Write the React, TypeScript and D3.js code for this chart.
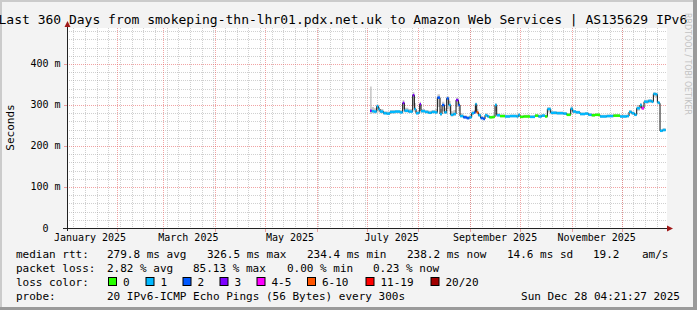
import React from "react";
import * as d3 from "d3";

const W = 697;
const H = 310;
const MONO = "'DejaVu Sans Mono', monospace";

const TITLE =
  "Last 360 Days from smokeping-thn-lhr01.pdx.net.uk to Amazon Web Services | AS135629 IPv6";
const START = Date.UTC(2025, 0, 2, 4, 21, 27);
const END = Date.UTC(2025, 11, 28, 4, 21, 27);
const Y_MAX = 487.8;

// day-of-year (2025, fractional) of each consolidated sample
const dayOfYear = [
  184.0, 185.0, 186.4, 188.0, 189.0, 190.0, 192.0, 194.0, 196.0, 199.0, 202.0, 203.6, 204.6, 207.0,
  209.6, 210.6, 211.6, 213.0, 213.8, 214.6, 217.0, 219.0, 221.0, 223.0, 224.4, 226.0, 227.2, 228.6,
  230.0, 231.2, 232.4, 234.0, 235.6, 237.0, 238.0, 240.0, 242.0, 243.6, 245.0, 246.4, 247.2, 248.0,
  249.0, 250.4, 252.0, 253.0, 254.4, 255.6, 257.6, 259.0, 260.0, 262.0, 265.0, 268.0, 272.0, 273.0,
  274.0, 276.0, 280.0, 283.0, 285.0, 287.0, 289.0, 290.4, 292.4, 296.0, 300.0, 302.0, 304.4, 305.6,
  307.6, 310.0, 313.0, 315.0, 317.0, 319.0, 322.0, 326.0, 330.0, 334.0, 338.0, 339.4, 341.0, 342.6,
  344.0, 346.0, 347.0, 348.4, 351.0, 353.0, 354.0, 355.4, 356.4, 357.6, 358.0, 359.6,
];
const lastDay = 361.4;

// median rtt (ms)
const medianRtt = [
  286, 285, 284, 297, 290, 284, 280, 279, 283, 284, 282, 305, 286, 284,
  324, 290, 280, 281, 302, 285, 283, 281, 283, 282, 318, 278, 300, 282,
  316, 300, 276, 278, 312, 300, 273, 270, 268, 270, 280, 282, 302, 282,
  275, 268, 266, 275, 272, 270, 271, 300, 275, 273, 272, 273, 272, 276,
  271, 272, 271, 274, 272, 274, 272, 290, 281, 280, 279, 276, 291, 284,
  282, 278, 279, 276, 275, 276, 272, 273, 274, 272, 273, 283, 280, 276,
  292, 300, 292, 308, 310, 308, 327, 326, 306, 304, 237, 239,
];

// lost pings (of 20)
const lostPings = [
  3, 1, 1, 1, 1, 1, 1, 1, 1, 1, 1, 3, 1, 1,
  3, 1, 1, 1, 3, 1, 1, 1, 1, 1, 2, 1, 2, 1,
  2, 1, 1, 1, 3, 2, 1, 2, 2, 1, 1, 2, 1, 8,
  1, 2, 2, 1, 1, 0, 0, 1, 1, 0, 1, 1, 1, 1,
  0, 0, 1, 0, 1, 1, 0, 1, 1, 1, 1, 0, 1, 1,
  1, 1, 1, 1, 0, 0, 1, 1, 0, 1, 1, 1, 1, 1,
  1, 1, 5, 1, 1, 1, 1, 1, 1, 1, 1, 1,
];

// smoke (ping spread) in ms
const smokeLow = [
  278, 280, 279, 285, 282, 280, 277, 276, 279, 280, 279, 290, 282, 281,
  300, 283, 277, 278, 290, 281, 280, 278, 280, 279, 295, 274, 285, 278,
  290, 285, 272, 274, 295, 285, 270, 267, 265, 267, 276, 278, 285, 278,
  272, 265, 263, 271, 269, 267, 268, 285, 272, 270, 269, 270, 269, 272,
  268, 269, 268, 271, 269, 271, 269, 282, 277, 277, 276, 273, 284, 280,
  279, 275, 276, 273, 272, 273, 269, 270, 271, 269, 270, 279, 276, 273,
  286, 293, 288, 303, 305, 304, 320, 318, 302, 300, 234, 236,
];
const smokeHigh = [
  345, 295, 292, 302, 296, 290, 285, 284, 288, 288, 287, 312, 293, 290,
  332, 305, 286, 287, 308, 290, 288, 286, 288, 290, 326, 290, 308, 292,
  322, 310, 285, 288, 318, 308, 279, 275, 273, 276, 286, 288, 306, 290,
  280, 272, 270, 280, 276, 274, 275, 304, 280, 277, 276, 277, 276, 280,
  275, 276, 275, 278, 276, 278, 276, 295, 285, 284, 283, 280, 297, 288,
  286, 282, 283, 280, 279, 280, 276, 277, 278, 276, 277, 288, 284, 280,
  300, 305, 298, 313, 314, 312, 331, 330, 310, 308, 241, 243,
];

const yMajor = [0, 100, 200, 300, 400];
const yMajorLabels = ["0\u00a0\u00a0", "100 m", "200 m", "300 m", "400 m"];

const lossLabels = ["0", "1", "2", "3", "4-5", "6-10", "11-19", "20/20"];
const lossMaxPings = [0, 1, 2, 3, 5, 10, 19, 20];
const lossColors = ["#26ff00", "#00b8ff", "#0059ff", "#7e00ff", "#ff00ff", "#ff5500", "#ff0000", "#a10000"];
const lossSwatchX = [108, 145.5, 182.5, 219.5, 256.5, 307, 365.5, 430.5];

const legendRow1: [number, string][] = [
  [16, "median rtt:"],
  [107, "279.8 ms avg"],
  [207, "326.5 ms max"],
  [307, "234.4 ms min"],
  [407, "238.2 ms now"],
  [507, "14.6 ms sd"],
  [593, "19.2"],
  [642, "am/s"],
];
const legendRow2: [number, string][] = [
  [16, "packet loss:"],
  [107, "2.82 % avg"],
  [193, "85.13 % max"],
  [287, "0.00 % min"],
  [373, "0.23 % now"],
];
const probeText = "20 IPv6-ICMP Echo Pings (56 Bytes) every 300s";
const stampText = "Sun Dec 28 04:21:27 2025";

const dayToDate = (d: number) => new Date(Date.UTC(2025, 0, 1) + (d - 1) * 864e5);

export default function App() {
  const L = 67, R = 667, T = 28, B = 228;
  const x = d3.scaleUtc().domain([new Date(START), new Date(END)]).range([L, R]);
  const y = d3.scaleLinear().domain([0, Y_MAX]).range([B, T]);

  const pts = dayOfYear.map((d, i) => ({
    t: dayToDate(d),
    t2: dayToDate(i + 1 < dayOfYear.length ? dayOfYear[i + 1] : lastDay),
    m: medianRtt[i],
    lo: smokeLow[i],
    hi: smokeHigh[i],
    loss: lostPings[i],
  }));
  const stepPts = [...pts, { ...pts[pts.length - 1], t: dayToDate(lastDay) }];

  const smoke = d3
    .area<any>()
    .curve(d3.curveStepAfter)
    .x((d) => x(d.t))
    .y0((d) => y(d.lo))
    .y1((d) => y(d.hi))(stepPts);
  const medLine = d3
    .line<any>()
    .curve(d3.curveStepAfter)
    .x((d) => x(d.t))
    .y((d) => y(d.m))(stepPts);

  const bucket = (l: number) => lossMaxPings.findIndex((mx) => l <= mx);

  const months = d3.utcMonth.range(new Date(START), new Date(END));
  const weeks = d3.utcMonday.range(new Date(START), new Date(END));
  const labelMonths = d3.utcMonth.every(2)!.range(new Date(Date.UTC(2025, 0, 1)), new Date(END));
  const fmt = d3.utcFormat("%B %Y");
  const yMinor = d3.range(20, Y_MAX, 20).filter((v) => v % 100 !== 0);

  const minorC = "rgba(150,150,150,0.45)";
  const majorC = "rgba(230,90,90,0.55)";

  return (
    <svg
      width={W}
      height={H}
      style={{ position: "absolute", left: 0, top: 0, display: "block" }}
      fontFamily={MONO}
    >
      <rect x={0} y={0} width={W} height={H} fill="#f3f3f3" />
      {/* shade border */}
      <rect x={0} y={0} width={W} height={2} fill="#cbcbcb" />
      <rect x={0} y={0} width={2} height={H} fill="#cbcbcb" />
      <rect x={693} y={0} width={4} height={H} fill="#9a9a9a" />
      <rect x={0} y={307} width={W} height={3} fill="#9a9a9a" />

      <rect x={L} y={T} width={R - L} height={B - T} fill="#ffffff" />

      {/* minor grid */}
      {yMinor.map((v) => (
        <line key={"ym" + v} x1={L} x2={R} y1={Math.round(y(v)) + 0.5} y2={Math.round(y(v)) + 0.5}
          stroke={minorC} strokeDasharray="1,1" />
      ))}
      {weeks.map((w) => (
        <line key={"xw" + +w} x1={Math.round(x(w)) + 0.5} x2={Math.round(x(w)) + 0.5} y1={T} y2={B}
          stroke={minorC} strokeDasharray="1,1" />
      ))}
      {/* major grid */}
      {yMajor.filter((v) => v > 0).map((v) => (
        <line key={"yM" + v} x1={L} x2={R} y1={Math.round(y(v)) + 0.5} y2={Math.round(y(v)) + 0.5}
          stroke={majorC} strokeDasharray="1,1" />
      ))}
      {months.map((m) => (
        <line key={"xM" + +m} x1={Math.round(x(m)) + 0.5} x2={Math.round(x(m)) + 0.5} y1={T} y2={B}
          stroke={majorC} strokeDasharray="1,1" />
      ))}

      {/* smoke */}
      <path d={smoke || ""} fill="#b4b4b4" fillOpacity={0.7} />
      {/* median */}
      <path d={medLine || ""} fill="none" stroke="#111" strokeWidth={1} />
      {pts.map((p, i) => (
        <line key={"c" + i} x1={x(p.t)} x2={x(p.t2)} y1={y(p.m)} y2={y(p.m)}
          stroke={lossColors[bucket(p.loss)]} strokeWidth={2.5} />
      ))}

      {/* axes */}
      <line x1={L - 4} x2={R + 1} y1={B + 0.5} y2={B + 0.5} stroke="#222" strokeWidth={1} />
      <line x1={L + 0.5} x2={L + 0.5} y1={B + 3} y2={T - 1} stroke="#222" strokeWidth={1} />
      <path d={`M${R + 6},${B + 0.5} L${R},${B - 2.5} L${R},${B + 3.5} Z`} fill="#a01818" />
      <path d={`M${L + 0.5},${T - 7} L${L - 2.5},${T - 1} L${L + 3.5},${T - 1} Z`} fill="#a01818" />
      {months.map((m) => (
        <line key={"tk" + +m} x1={Math.round(x(m)) + 0.5} x2={Math.round(x(m)) + 0.5} y1={B + 1} y2={B + 4}
          stroke={majorC} />
      ))}
      {yMajor.filter((v) => v > 0).map((v) => (
        <line key={"ytk" + v} x1={L - 3} x2={L} y1={Math.round(y(v)) + 0.5} y2={Math.round(y(v)) + 0.5}
          stroke={majorC} />
      ))}

      {/* y labels */}
      {yMajor.map((v, i) => (
        <text key={"yl" + v} x={60.5} y={y(v) + 3.5} fontSize={10} textAnchor="end" fill="#000">
          {yMajorLabels[i]}
        </text>
      ))}
      {/* x labels */}
      {labelMonths.map((m) => (
        <text key={"xl" + +m} x={x(d3.utcDay.offset(m, 15))} y={240.5} fontSize={10} textAnchor="middle" fill="#000">
          {fmt(m)}
        </text>
      ))}

      <text transform="translate(14,127.5) rotate(-90)" fontSize={11} textAnchor="middle" fill="#000">
        Seconds
      </text>

      <text x={-1.5} y={23.5} fontSize={13} fill="#000">{TITLE}</text>

      <text transform="translate(685,13) rotate(90)" fontSize={9} fill="#c2c2c2"
        fontFamily="'DejaVu Sans', sans-serif" textLength={102} lengthAdjust="spacingAndGlyphs">
        RRDTOOL / TOBI OETIKER
      </text>

      {/* legend */}
      {legendRow1.map(([lx, s], i) => (
        <text key={"l1" + i} x={lx} y={258} fontSize={11} fill="#000">{s}</text>
      ))}
      {legendRow2.map(([lx, s], i) => (
        <text key={"l2" + i} x={lx} y={272} fontSize={11} fill="#000">{s}</text>
      ))}
      <text x={16} y={286} fontSize={11} fill="#000">loss color:</text>
      {lossLabels.map((lab, i) => (
        <g key={"sw" + i}>
          <rect x={lossSwatchX[i] + 0.5} y={277.5} width={8} height={8} fill={lossColors[i]} stroke="#000" strokeWidth={1} />
          <text x={lossSwatchX[i] + 15} y={286} fontSize={11} fill="#000">{lab}</text>
        </g>
      ))}
      <text x={16} y={300} fontSize={11} fill="#000">probe:</text>
      <text x={107} y={300} fontSize={11} fill="#000">{probeText}</text>
      <text x={680} y={300} fontSize={11} fill="#000" textAnchor="end">{stampText}</text>
    </svg>
  );
}
